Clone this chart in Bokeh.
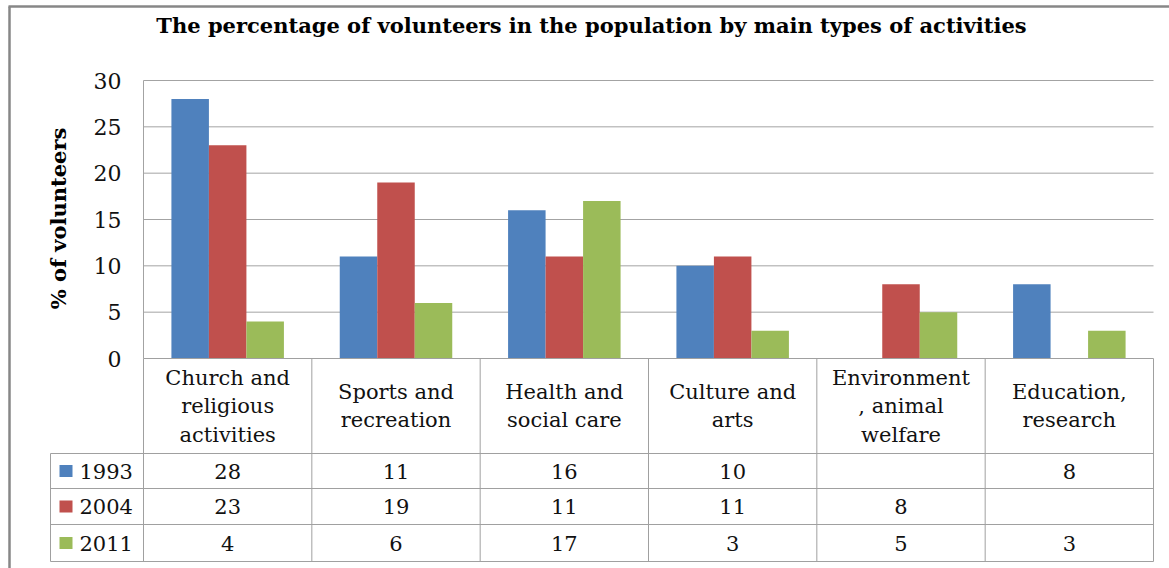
import math
from bokeh.plotting import figure
from bokeh.models import Range1d
from bokeh.core.properties import value
from bokeh.embed import file_html
from bokeh.resources import INLINE

# ---------------- data ----------------
title = "The percentage of volunteers in the population by main types of activities"
y_label = "% of volunteers"
categories = [
    "Church and\nreligious\nactivities",
    "Sports and\nrecreation",
    "Health and\nsocial care",
    "Culture and\narts",
    "Environment\n, animal\nwelfare",
    "Education,\nresearch",
]
years = ["1993", "2004", "2011"]
v1993 = [28, 11, 16, 10, None, 8]
v2004 = [23, 19, 11, 11, 8, None]
v2011 = [4, 6, 17, 3, 5, 3]
y_ticks = [0, 5, 10, 15, 20, 25, 30]
colors = ["#4F81BD", "#C0504D", "#9BBB59"]

series = [v1993, v2004, v2011]

# ---------------- layout (picture pixels) ----------------
W, H = 1169, 568
PAGE = 0
PL, PR = 143, 1153     # plot area left / right
PT, PB = 80, 358       # plot area top (max) / bottom (0)
YMAX = y_ticks[-1]
n = len(categories)
ux = (PR - PL) / n
uy = (PB - PT) / YMAX


def X(px):
    return (px - PL) / ux


def Y(py):
    return (PB - py) / uy


SERIF = value("DejaVu Serif")
GRID = "#a3a3a3"
TABLE = "#a0a0a0"
FRAME = "#878787"
TXT = "#111111"

p = figure(width=W, height=H,
           x_range=Range1d(X(PAGE), X(PAGE + W)),
           y_range=Range1d(Y(PAGE + H), Y(PAGE)),
           output_backend="svg", toolbar_location=None,
           x_axis_location=None, y_axis_location=None,
           min_border=0)
p.grid.visible = False
p.outline_line_color = None
p.background_fill_color = "white"
p.border_fill_color = "white"

# outer chart frame
p.segment(x0=[X(9), X(8)], y0=[Y(6), Y(6)], x1=[X(9), X(PAGE + W + 10)], y1=[Y(PAGE + H + 10), Y(6)],
          line_color=FRAME, line_width=2.5)

# gridlines + plot area left border
p.segment(x0=[0] * (len(y_ticks) - 1), x1=[n] * (len(y_ticks) - 1),
          y0=y_ticks[1:], y1=y_ticks[1:], line_color=GRID, line_width=1)
p.segment(x0=[0], x1=[0], y0=[0], y1=[YMAX], line_color=GRID, line_width=1)

# bars
bw = 37.5 / ux
offsets = [-bw, 0.0, bw]
for k, vals in enumerate(series):
    xs = [i + 0.5 + offsets[k] for i, v in enumerate(vals) if v is not None]
    tops = [v for v in vals if v is not None]
    p.vbar(x=xs, top=tops, bottom=0, width=bw, fill_color=colors[k], line_color=None)

# y tick labels
p.text(x=[X(121)] * len(y_ticks), y=y_ticks, text=[str(t) for t in y_ticks],
       text_font=SERIF, text_font_size="22px", text_align="right",
       text_baseline="middle", text_color=TXT)

# y axis label
p.text(x=[X(58)], y=[Y(218)], text=[y_label], angle=math.pi / 2,
       text_font=SERIF, text_font_style="bold", text_font_size="21px",
       text_align="center", text_baseline="middle", text_color="#000000")

# title
p.text(x=[X(591)], y=[Y(25)], text=[title],
       text_font=SERIF, text_font_style="bold", text_font_size="21px",
       text_align="center", text_baseline="middle", text_color="#000000")

# ---------------- data table ----------------
rows_py = [358, 453, 488, 524, 561]
LEG_L = 50
# vertical lines
p.segment(x0=list(range(n + 1)), x1=list(range(n + 1)),
          y0=[Y(rows_py[0])] * (n + 1), y1=[Y(rows_py[-1])] * (n + 1),
          line_color=TABLE, line_width=1)
p.segment(x0=[X(LEG_L)], x1=[X(LEG_L)], y0=[Y(rows_py[1])], y1=[Y(rows_py[-1])],
          line_color=TABLE, line_width=1)
# horizontal lines
p.segment(x0=[0], x1=[n], y0=[Y(rows_py[0])], y1=[Y(rows_py[0])], line_color=TABLE, line_width=1)
p.segment(x0=[X(LEG_L)] * 4, x1=[n] * 4, y0=[Y(r) for r in rows_py[1:]], y1=[Y(r) for r in rows_py[1:]],
          line_color=TABLE, line_width=1)

# header (category labels)
hx, hy, ht = [], [], []
line_gap = 28.5
hc = (rows_py[0] + rows_py[1]) / 2
for i, c in enumerate(categories):
    lines = c.split("\n")
    m = len(lines)
    for j, ln in enumerate(lines):
        hx.append(i + 0.5)
        hy.append(Y(hc + (j - (m - 1) / 2) * line_gap))
        ht.append(ln)
p.text(x=hx, y=hy, text=ht, text_font=SERIF, text_font_size="21px",
       text_align="center", text_baseline="middle", text_color=TXT)

# value rows
for k, vals in enumerate(series):
    rc = (rows_py[k + 1] + rows_py[k + 2]) / 2
    xs = [i + 0.5 for i, v in enumerate(vals) if v is not None]
    ts = [str(v) for v in vals if v is not None]
    p.text(x=xs, y=[Y(rc)] * len(xs), text=ts, text_font=SERIF, text_font_size="21px",
           text_align="center", text_baseline="middle", text_color=TXT)
    # legend key
    p.rect(x=[X(65.5)], y=[Y(rc)], width=13, height=12, width_units="screen", height_units="screen",
           fill_color=colors[k], line_color=None)
    p.text(x=[X(79)], y=[Y(rc)], text=[years[k]], text_font=SERIF, text_font_size="21px",
           text_align="left", text_baseline="middle", text_color=TXT)

open("out.html", "w").write(file_html(p, INLINE))
